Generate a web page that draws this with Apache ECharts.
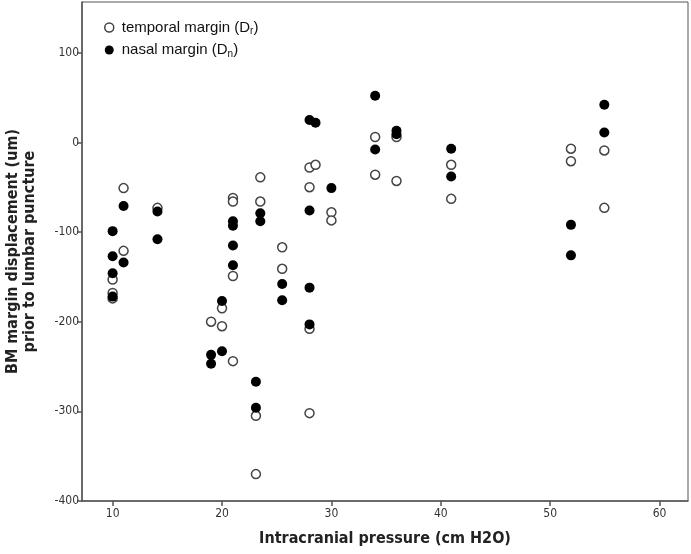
<!DOCTYPE html>
<html>
<head>
<meta charset="utf-8">
<script src="https://cdn.jsdelivr.net/npm/echarts@6/dist/echarts.min.js"></script>
<style>html,body{margin:0;padding:0;background:#fff}#c{width:691px;height:554px}</style>
</head>
<body>
<div id="c"></div>
<script>
// Tick labels
var xTicks = [10, 20, 30, 40, 50, 60];
var yTicks = [-400, -300, -200, -100, 0, 100];
// Series names
var seriesNames = ['temporal margin (Dr)', 'nasal margin (Dn)'];
// temporal margin (open circles): [ICP, displacement]
var temporal = [
  [10, -153], [10, -168], [10, -174], [11, -51], [11, -121], [14.1, -73],
  [19, -200], [20, -185], [20, -205], [21, -62], [21, -66], [21, -149], [21, -244],
  [23.1, -305], [23.1, -370], [23.5, -39], [23.5, -66],
  [25.5, -117], [25.5, -141], [28, -28], [28.55, -25], [28, -50], [28, -208], [28, -302],
  [30, -78], [30, -87], [34, 6], [34, -36], [35.95, 6], [35.95, -43],
  [40.95, -25], [40.95, -63], [51.9, -7], [51.9, -21], [54.95, -9], [54.95, -73]
];
// nasal margin (filled circles)
var nasal = [
  [10, -99], [10, -127], [10, -146], [10, -172], [11, -71], [11, -134], [14.1, -77], [14.1, -108],
  [19, -237], [19, -247], [20, -177], [20, -233], [21, -88], [21, -93], [21, -115], [21, -137],
  [23.1, -267], [23.1, -296], [23.5, -79], [23.5, -88], [25.5, -158], [25.5, -176],
  [28, 25], [28.55, 22], [28, -76], [28, -162], [28, -203], [30, -51],
  [34, 52], [34, -8], [35.95, 13], [35.95, 9], [40.95, -7], [40.95, -38],
  [51.9, -92], [51.9, -126], [54.95, 42], [54.95, 11]
];

var chart = echarts.init(document.getElementById('c'), null, {renderer: 'canvas'});
var condensed = '"DejaVu Sans Condensed", "DejaVu Sans", sans-serif';
var sans = '"Liberation Sans", Arial, sans-serif';
chart.setOption({
  animation: false,
  backgroundColor: '#ffffff',
  grid: {left: 82, right: 3, top: 2, bottom: 53, show: true, borderColor: '#555', borderWidth: 1,
         containLabel: false, outerBoundsMode: 'none'},
  legend: {
    orient: 'vertical', left: 99, top: 15, itemGap: 6, itemWidth: 9, itemHeight: 9,
    data: [
      {name: seriesNames[0], icon: 'circle', itemStyle: {color: '#fff', borderColor: '#444', borderWidth: 1.5}},
      {name: seriesNames[1], icon: 'circle', itemStyle: {color: '#000'}}
    ],
    formatter: function (n) {
      if (n === seriesNames[0]) return '{a|temporal margin (D}{s|r}{b|)}';
      return '{a|nasal margin (D}{s|n}{b|)}';
    },
    textStyle: {
      rich: {
        a: {fontFamily: sans, fontSize: 15, color: '#111', padding: [0, 0, 0, 3]},
        b: {fontFamily: sans, fontSize: 15, color: '#111'},
        s: {fontFamily: sans, fontSize: 10, color: '#111', padding: [8, 0, 0, 0]}
      }
    }
  },
  xAxis: {
    type: 'value', min: 7.2, max: 62.6,
    name: 'Intracranial pressure (cm H2O)', nameLocation: 'middle', nameGap: 30,
    nameTextStyle: {fontFamily: condensed, fontWeight: 'bold', fontSize: 16, color: '#222'},
    axisLine: {show: true, onZero: false, lineStyle: {color: '#555', width: 1.5}},
    axisTick: {show: true, length: 5, customValues: xTicks, lineStyle: {color: '#555', width: 1.5}},
    axisLabel: {customValues: xTicks, fontFamily: condensed, fontSize: 12, color: '#333', margin: 7},
    splitLine: {show: false}
  },
  yAxis: {
    type: 'value', min: -400, max: 156.6,
    name: 'BM margin displacement (um)\nprior to lumbar puncture', nameLocation: 'middle', nameGap: 44,
    nameTextStyle: {fontFamily: condensed, fontWeight: 'bold', fontSize: 16, color: '#222', lineHeight: 17},
    axisLine: {show: true, onZero: false, lineStyle: {color: '#555', width: 1.5}},
    axisTick: {show: true, length: 5, customValues: yTicks, lineStyle: {color: '#555', width: 1.5}},
    axisLabel: {customValues: yTicks, fontFamily: condensed, fontSize: 12, color: '#333', margin: 3},
    splitLine: {show: false}
  },
  series: [
    {
      name: seriesNames[0], type: 'scatter', data: temporal, symbol: 'circle', symbolSize: 9,
      itemStyle: {color: '#fff', borderColor: '#444', borderWidth: 1.5, opacity: 1}
    },
    {
      name: seriesNames[1], type: 'scatter', data: nasal, symbol: 'circle', symbolSize: 10,
      itemStyle: {color: '#000', opacity: 1}
    }
  ]
});
</script>
</body>
</html>
